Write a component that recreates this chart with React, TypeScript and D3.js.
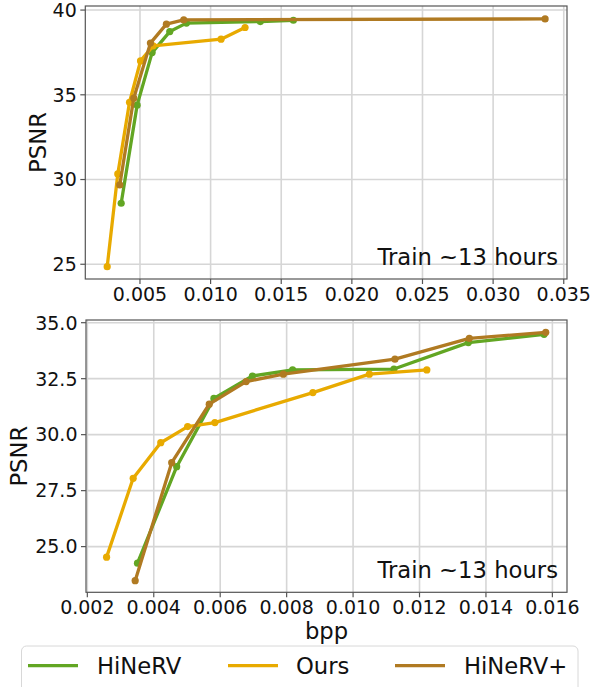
import React from "react";
import * as d3 from "d3";

// Rate–distortion curves: bits per pixel vs PSNR, two videos
const topHiNeRVBpp = [0.00367, 0.0048, 0.00586, 0.00711, 0.00829, 0.01352, 0.01586];
const topHiNeRVPsnr = [28.6, 34.39, 37.49, 38.73, 39.23, 39.32, 39.4];
const topOursBpp = [0.00268, 0.00343, 0.00426, 0.00504, 0.00593, 0.01074, 0.01244];
const topOursPsnr = [24.86, 30.33, 34.56, 37.0, 37.89, 38.28, 38.97];
const topPlusBpp = [0.00357, 0.00456, 0.00574, 0.00687, 0.0081, 0.03368];
const topPlusPsnr = [29.68, 34.8, 38.05, 39.17, 39.42, 39.48];

const botHiNeRVBpp = [0.00351, 0.00469, 0.00581, 0.00697, 0.00818, 0.01123, 0.01347, 0.01575];
const botHiNeRVPsnr = [24.26, 28.57, 31.62, 32.62, 32.89, 32.93, 34.11, 34.48];
const botOursBpp = [0.00258, 0.00338, 0.00421, 0.00502, 0.00584, 0.00879, 0.01049, 0.01222];
const botOursPsnr = [24.53, 28.05, 29.64, 30.36, 30.54, 31.88, 32.7, 32.89];
const botPlusBpp = [0.00344, 0.00454, 0.00567, 0.00678, 0.0079, 0.01126, 0.0135, 0.0158];
const botPlusPsnr = [23.48, 28.75, 31.36, 32.37, 32.7, 33.37, 34.3, 34.57];

const topXTicks = [0.005, 0.01, 0.015, 0.02, 0.025, 0.03, 0.035];
const topYTicks = [25, 30, 35, 40];
const botXTicks = [0.002, 0.004, 0.006, 0.008, 0.01, 0.012, 0.014, 0.016];
const botYTicks = [25, 27.5, 30, 32.5, 35];

const seriesNames = ["HiNeRV", "Ours", "HiNeRV+"];
const seriesColors = ["#62a623", "#e8aa00", "#b07a22"];
const note = "Train ~13 hours";

const FONT = "DejaVu Sans, sans-serif";

type Series = { name: string; color: string; x: number[]; y: number[] };

function Panel(props: {
  left: number; right: number; top: number; bottom: number;
  xDomain: [number, number]; yDomain: [number, number];
  xTicks: number[]; yTicks: number[];
  xFmt: (v: number) => string; yFmt: (v: number) => string;
  series: Series[]; xLabel?: string; yLabelX: number;
}) {
  const { left, right, top, bottom } = props;
  const x = d3.scaleLinear().domain(props.xDomain).range([left, right]);
  const y = d3.scaleLinear().domain(props.yDomain).range([bottom, top]);
  const line = d3.line<[number, number]>().x((d) => x(d[0])).y((d) => y(d[1]));
  const clipId = `clip-${Math.round(top)}`;
  return (
    <g>
      <defs>
        <clipPath id={clipId}>
          <rect x={left} y={top} width={right - left} height={bottom - top} />
        </clipPath>
      </defs>
      {props.xTicks.map((t) => (
        <line key={"gx" + t} x1={x(t)} x2={x(t)} y1={top} y2={bottom} stroke="#d6d6d6" strokeWidth={1.6} />
      ))}
      {props.yTicks.map((t) => (
        <line key={"gy" + t} x1={left} x2={right} y1={y(t)} y2={y(t)} stroke="#d6d6d6" strokeWidth={1.6} />
      ))}
      <g clipPath={`url(#${clipId})`}>
        {props.series.map((s) => {
          const pts = s.x.map((v, i) => [v, s.y[i]] as [number, number]);
          return (
            <g key={s.name}>
              <path d={line(pts) || ""} fill="none" stroke={s.color} strokeWidth={3.3} strokeLinejoin="round" strokeLinecap="round" />
              {pts.map((p, i) => (
                <circle key={i} cx={x(p[0])} cy={y(p[1])} r={3.6} fill={s.color} />
              ))}
            </g>
          );
        })}
      </g>
      <rect x={left} y={top} width={right - left} height={bottom - top} fill="none" stroke="#555" strokeWidth={1.2} />
      {props.xTicks.map((t) => (
        <g key={"tx" + t}>
          <line x1={x(t)} x2={x(t)} y1={bottom} y2={bottom + 5} stroke="#555" strokeWidth={1.2} />
          <text x={x(t)} y={bottom + 22} textAnchor="middle" fontSize={19} fontFamily={FONT} fill="#111">
            {props.xFmt(t)}
          </text>
        </g>
      ))}
      {props.yTicks.map((t) => (
        <g key={"ty" + t}>
          <line x1={left - 5} x2={left} y1={y(t)} y2={y(t)} stroke="#555" strokeWidth={1.2} />
          <text x={left - 8.5} y={y(t)} dy="0.36em" textAnchor="end" fontSize={19} fontFamily={FONT} fill="#111">
            {props.yFmt(t)}
          </text>
        </g>
      ))}
      <text
        transform={`translate(${props.yLabelX},${(top + bottom) / 2}) rotate(-90)`}
        textAnchor="middle" dy="0.36em" fontSize={22.7} fontFamily={FONT} fill="#111"
      >
        PSNR
      </text>
      <text x={right - 9} y={bottom - 14} textAnchor="end" fontSize={22.7} fontFamily={FONT} fill="#111">
        {note}
      </text>
      {props.xLabel && (
        <text x={(left + right) / 2} y={bottom + 47} textAnchor="middle" fontSize={22.7} fontFamily={FONT} fill="#111">
          {props.xLabel}
        </text>
      )}
    </g>
  );
}

export default function App() {
  const topSeries: Series[] = [
    { name: seriesNames[0], color: seriesColors[0], x: topHiNeRVBpp, y: topHiNeRVPsnr },
    { name: seriesNames[1], color: seriesColors[1], x: topOursBpp, y: topOursPsnr },
    { name: seriesNames[2], color: seriesColors[2], x: topPlusBpp, y: topPlusPsnr },
  ];
  const botSeries: Series[] = [
    { name: seriesNames[0], color: seriesColors[0], x: botHiNeRVBpp, y: botHiNeRVPsnr },
    { name: seriesNames[1], color: seriesColors[1], x: botOursBpp, y: botOursPsnr },
    { name: seriesNames[2], color: seriesColors[2], x: botPlusBpp, y: botPlusPsnr },
  ];
  const legendItems = [
    { lx: 28, tx: 97 },
    { lx: 228, tx: 296 },
    { lx: 395, tx: 464 },
  ];
  return (
    <svg width={592} height={687} style={{ position: "absolute", left: 0, top: 0, background: "#fff" }}>
      <Panel
        left={85.3} right={567} top={6} bottom={279}
        xDomain={[0.00113, 0.03523]} yDomain={[24.13, 40.24]}
        xTicks={topXTicks} yTicks={topYTicks}
        xFmt={d3.format(".3f")} yFmt={d3.format("d")}
        series={topSeries} yLabelX={38}
      />
      <Panel
        left={86} right={567} top={320} bottom={592.3}
        xDomain={[0.00196, 0.01644]} yDomain={[22.96, 35.12]}
        xTicks={botXTicks} yTicks={botYTicks}
        xFmt={d3.format(".3f")} yFmt={d3.format(".1f")}
        series={botSeries} xLabel="bpp" yLabelX={18.5}
      />
      <rect x={21.5} y={646} width={556.5} height={60} rx={5} fill="#fff" stroke="#d8d8d8" strokeWidth={1} />
      {seriesNames.map((n, i) => (
        <g key={n}>
          <line x1={legendItems[i].lx} x2={legendItems[i].lx + 50} y1={665.7} y2={665.7} stroke={seriesColors[i]} strokeWidth={3.2} />
          <text x={legendItems[i].tx} y={665.7} dy="0.36em" fontSize={22.7} fontFamily={FONT} fill="#111">
            {n}
          </text>
        </g>
      ))}
    </svg>
  );
}
